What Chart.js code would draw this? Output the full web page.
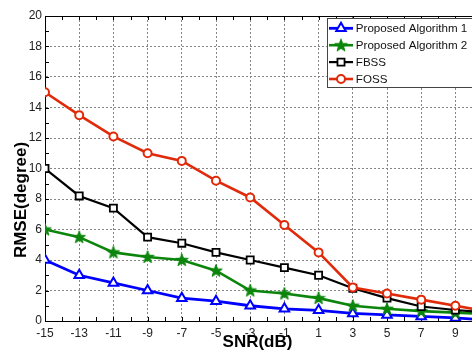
<!DOCTYPE html>
<html><head><meta charset="utf-8">
<script src="https://cdn.jsdelivr.net/npm/chart.js@4/dist/chart.umd.min.js"></script>
<style>
html,body{margin:0;padding:0;overflow:hidden;background:#fff;width:472px;height:353px}
#wrap{width:480px;height:353px;position:relative}
canvas{display:block}
</style></head>
<body><div id="wrap"><canvas id="c" width="480" height="353"></canvas></div>
<script>
// ---- data ----
const snr   = [-15,-13,-11,-9,-7,-5,-3,-1,1,3,5,7,9,11];
const alg1  = [4.0,3.0,2.5,2.0,1.5,1.3,1.0,0.8,0.7,0.5,0.4,0.3,0.2,0.05];
const alg2  = [6.0,5.5,4.5,4.2,4.0,3.3,2.0,1.8,1.5,1.0,0.8,0.65,0.55,0.45];
const fbss  = [10.0,8.2,7.4,5.5,5.1,4.5,4.0,3.5,3.0,2.15,1.5,0.95,0.72,0.55];
const foss  = [15.0,13.5,12.1,11.0,10.5,9.2,8.1,6.3,4.5,2.2,1.8,1.4,1.0,0.6];
const seriesNames = ['Proposed Algorithm 1','Proposed Algorithm 2','FBSS','FOSS'];
const xTicks = [-15,-13,-11,-9,-7,-5,-3,-1,1,3,5,7,9];
const yTicks = [0,2,4,6,8,10,12,14,16,18,20];
const xTitle = 'SNR(dB)';
const yTitle = 'RMSE(degree)';

// filled pentagram marker
function makeStar(color){
  const c = document.createElement('canvas');
  c.width = 14; c.height = 14;
  const g = c.getContext('2d');
  g.beginPath();
  for (let i=0;i<10;i++){
    const r = i%2===0 ? 6.6 : 2.7;
    const a = -Math.PI/2 + i*Math.PI/5;
    const px = 7 + r*Math.cos(a), py = 7.4 + r*Math.sin(a);
    if (i===0) g.moveTo(px,py); else g.lineTo(px,py);
  }
  g.closePath();
  g.fillStyle = color; g.fill();
  g.strokeStyle = color; g.lineWidth = 1; g.stroke();
  return c;
}

const RED='#e02a0a', BLUE='#0000ff', GREEN='#0b850b', BLACK='#000000';
const pts = v => snr.map((s,i)=>({x:s,y:v[i]}));

const datasets = [
  {label:seriesNames[0], data:pts(alg1), borderColor:BLUE, borderWidth:2.8,
   pointStyle:'triangle', pointRadius:5.5, pointBorderWidth:2, pointBackgroundColor:'#fff', pointBorderColor:BLUE, order:3, legendIndex:0},
  {label:seriesNames[1], data:pts(alg2), borderColor:GREEN, borderWidth:2.6,
   pointStyle:makeStar(GREEN), pointRadius:6, pointBorderWidth:0, pointBackgroundColor:GREEN, pointBorderColor:GREEN, order:2, legendIndex:1},
  {label:seriesNames[2], data:pts(fbss), borderColor:BLACK, borderWidth:2.2,
   pointStyle:'rect', pointRadius:5, pointBorderWidth:1.8, pointBackgroundColor:'#fff', pointBorderColor:BLACK, order:1, legendIndex:2},
  {label:seriesNames[3], data:pts(foss), borderColor:RED, borderWidth:2.6,
   pointStyle:'circle', pointRadius:4, pointBorderWidth:2, pointBackgroundColor:'#fff', pointBorderColor:RED, order:0, legendIndex:3}
];

const frame = {
  id:'frame',
  beforeDatasetsDraw(chart){
    const {ctx, chartArea:a, scales:{x,y}} = chart;
    ctx.save();
    ctx.strokeStyle='#000'; ctx.lineWidth=1;
    ctx.beginPath();
    ctx.moveTo(a.left, a.top+0.5); ctx.lineTo(a.right+1, a.top+0.5);
    for (let v=x.min; v<=x.max; v++){
      const px = Math.round(x.getPixelForValue(v))+0.5;
      ctx.moveTo(px, a.bottom); ctx.lineTo(px, a.bottom-4);
      ctx.moveTo(px, a.top); ctx.lineTo(px, a.top+4);
    }
    for (let v=y.min; v<=y.max; v++){
      const py = Math.round(y.getPixelForValue(v))+0.5;
      ctx.moveTo(a.left, py); ctx.lineTo(a.left+4, py);
    }
    ctx.stroke();
    ctx.restore();
  },
  afterDatasetsDraw(chart){
    const {ctx} = chart;
    ctx.save();
    // legend
    const bx=327.5, by=18.5, bw=160, bh=69;
    ctx.fillStyle='#fff'; ctx.fillRect(bx,by,bw,bh);
    ctx.strokeStyle='#444'; ctx.lineWidth=1; ctx.strokeRect(bx,by,bw,bh);
    const ds = chart.data.datasets.slice().sort((p,q)=>p.legendIndex-q.legendIndex);
    ds.forEach((d,i)=>{
      const cy = 28.3 + i*16.9;
      ctx.strokeStyle=d.borderColor; ctx.lineWidth=d.borderWidth;
      ctx.beginPath(); ctx.moveTo(bx+1.5, cy); ctx.lineTo(bx+25.5, cy); ctx.stroke();
      ctx.fillStyle=d.pointBackgroundColor; ctx.strokeStyle=d.pointBorderColor; ctx.lineWidth=d.pointBorderWidth;
      Chart.helpers.drawPoint(ctx, {pointStyle:d.pointStyle, radius:d.pointRadius, borderWidth:d.pointBorderWidth, rotation:0}, bx+13.5, cy);
      ctx.fillStyle='#111'; ctx.font='11.6px "Liberation Sans", Arial, sans-serif';
      ctx.textAlign='left'; ctx.textBaseline='middle';
      ctx.fillText(d.label, bx+28.3, cy+0.5);
    });
    // axis titles
    ctx.fillStyle='#000';
    ctx.font='bold 17px "Liberation Sans", Arial, sans-serif';
    ctx.textAlign='center'; ctx.textBaseline='middle';
    ctx.fillText(xTitle, 257.5, 342);
    ctx.translate(21, 200); ctx.rotate(-Math.PI/2);
    ctx.fillText(yTitle, 0, 0);
    ctx.restore();
  }
};

new Chart(document.getElementById('c'), {
  type:'line',
  data:{datasets},
  options:{
    responsive:false, animation:false, devicePixelRatio:1,
    layout:{padding:{left:0, top:16, right:5, bottom:0}},
    plugins:{legend:{display:false}, tooltip:{enabled:false}},
    elements:{line:{tension:0, fill:false}},
    scales:{
      x:{type:'linear', min:-15, max:10,
        afterBuildTicks:s=>{ s.ticks = xTicks.map(v=>({value:v})); },
        afterFit:s=>{ s.height = 32; },
        grid:{color:'#858585', lineWidth:1, drawTicks:false},
        border:{display:true, color:'#000', width:1, dash:[2,2]},
        ticks:{font:{family:'"Liberation Sans", Arial, sans-serif', size:12}, color:'#222', padding:5, maxRotation:0, autoSkip:false}
      },
      y:{type:'linear', min:0, max:20,
        afterBuildTicks:s=>{ s.ticks = yTicks.map(v=>({value:v})); },
        afterFit:s=>{ s.width = 45; },
        grid:{color:'#858585', lineWidth:1, drawTicks:false},
        border:{display:true, color:'#000', width:1, dash:[2,2]},
        ticks:{font:{family:'"Liberation Sans", Arial, sans-serif', size:12}, color:'#222', padding:3}
      }
    }
  },
  plugins:[frame]
});
</script>
</body></html>
